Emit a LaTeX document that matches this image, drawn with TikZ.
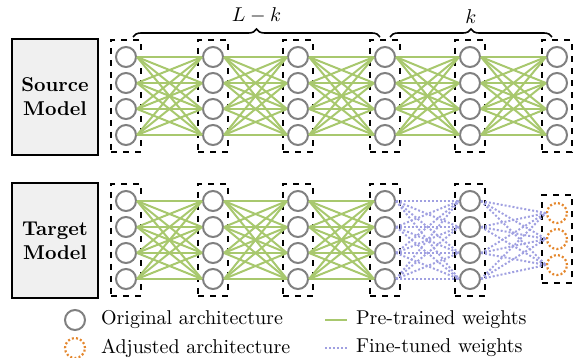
\documentclass[tikz,border=0pt]{standalone}
\usepackage{amsmath}
\usepackage{tikz}
\usetikzlibrary{positioning, calc, fit, decorations.pathreplacing}

\definecolor{pretrained}{RGB}{168,200,110}
\definecolor{finetuned}{RGB}{160,160,225}
\definecolor{adjusted}{RGB}{228,135,45}
\definecolor{neurongray}{RGB}{128,128,128}
\definecolor{modelfill}{RGB}{240,240,240}

\begin{document}
\begin{tikzpicture}[
    x=0.5pt, y=-0.5pt,
    font=\normalsize,
    model/.style={rectangle, draw=black, line width=0.9pt, fill=modelfill, minimum width=43pt, minimum height=58pt, align=center, font=\bfseries},
    neuron/.style={circle, draw=neurongray, line width=1pt, minimum size=10pt, inner sep=0pt},
    adj/.style={circle, draw=adjusted, line width=1.1pt, dash pattern=on 1pt off 1.1pt, minimum size=10pt, inner sep=0pt},
    layer/.style={rectangle, draw=black, dashed, line width=0.7pt, inner xsep=2pt, inner ysep=3pt},
    pre/.style={draw=pretrained, line width=1pt},
    fine/.style={draw=finetuned, line width=1pt, dash pattern=on 1pt off 1pt},
    brace/.style={decorate, decoration={brace, amplitude=4pt}, line width=0.8pt}
]

\useasboundingbox (0,0) rectangle (574,358);

% Model boxes
\node[model] (source) at (55,97) {Source\\Model};
\node[model, minimum height=57.5pt] (target) at (55,240.5) {Target\\Model};

% Neurons, source model
\foreach \x [count=\i] in {126,213,298,385,470,557} {
  \foreach \j in {1,...,4} {
    \node[neuron] (s-\i-\j) at (\x,{57+26*(\j-1)}) {};
  }
  \node[layer, fit=(s-\i-1)(s-\i-4)] (sl-\i) {};
}

% Neurons, target model
\foreach \x [count=\i] in {126,213,298,385,470} {
  \foreach \j in {1,...,4} {
    \node[neuron] (t-\i-\j) at (\x,{201+26*(\j-1)}) {};
  }
  \node[layer, fit=(t-\i-1)(t-\i-4)] (tl-\i) {};
}
\foreach \j in {1,2,3} {
  \node[adj] (t-6-\j) at (557,{213+26*(\j-1)}) {};
}
\node[layer, inner ysep=3.5pt, fit=(t-6-1)(t-6-3)] (tl-6) {};

% Weights, source model
\foreach \i [evaluate=\i as \n using int(\i+1)] in {1,...,5} {
  \foreach \a in {1,...,4} {
    \foreach \b in {1,...,4} {
      \draw[pre] (s-\i-\a.east) -- (s-\n-\b.west);
    }
  }
}

% Weights, target model
\foreach \i [evaluate=\i as \n using int(\i+1)] in {1,2,3} {
  \foreach \a in {1,...,4} {
    \foreach \b in {1,...,4} {
      \draw[pre] (t-\i-\a.east) -- (t-\n-\b.west);
    }
  }
}
\foreach \a in {1,...,4} {
  \foreach \b in {1,...,4} {
    \draw[fine] (t-4-\a.east) -- (t-5-\b.west);
  }
  \foreach \b in {1,2,3} {
    \draw[fine] (t-5-\a.east) -- (t-6-\b.west);
  }
}

% Braces
\coordinate (lk-a) at (133,37);
\coordinate (lk-b) at (380,37);
\coordinate (k-a) at (390,37);
\coordinate (k-b) at (552,37);
\draw[brace] (lk-a) -- node[above=3pt] (lk-label) {$L-k$} (lk-b);
\draw[brace] (k-a) -- node[above=3pt] (k-label) {$k$} (k-b);

% Legend
\node[neuron] (leg-orig) at (75,320) {};
\node[right=4pt of leg-orig] (leg-orig-text) {Original architecture};
\node[adj] (leg-adj) at (75,348) {};
\node[right=4pt of leg-adj] (leg-adj-text) {Adjusted architecture};

\coordinate (leg-pre-a) at (325,320);
\coordinate (leg-pre-b) at (347,320);
\draw[pre, line width=1.4pt] (leg-pre-a) -- (leg-pre-b);
\node[right=1pt of leg-pre-b] (leg-pre-text) {Pre-trained weights};
\coordinate (leg-fine-a) at (325,348);
\coordinate (leg-fine-b) at (347,348);
\draw[fine, line width=1.4pt] (leg-fine-a) -- (leg-fine-b);
\node[right=1pt of leg-fine-b] (leg-fine-text) {Fine-tuned weights};

\end{tikzpicture}
\end{document}
